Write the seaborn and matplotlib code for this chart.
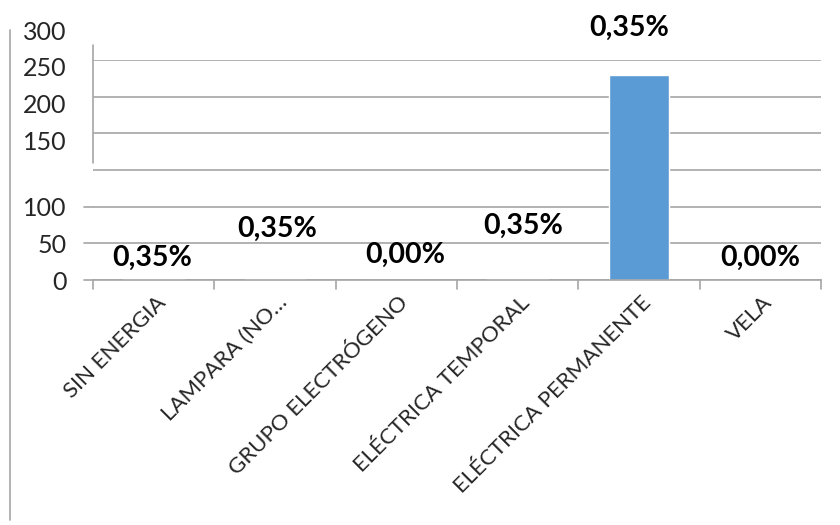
import matplotlib
matplotlib.use("Agg")
import matplotlib.pyplot as plt
import matplotlib.transforms as mtransforms
from matplotlib.lines import Line2D
import seaborn as sns

categories = ["SIN ENERGIA", "LAMPARA (NO…", "GRUPO ELECTRÓGENO",
              "ELÉCTRICA TEMPORAL", "ELÉCTRICA PERMANENTE", "VELA"]
values = [1, 1, 0, 1, 280, 0]
labels = ["0,35%", "0,35%", "0,00%", "0,35%", "0,35%", "0,00%"]
y_ticks = [0, 50, 100, 150, 200, 250, 300]

sns.set_style("white")
plt.rcParams["font.family"] = ["Lato", "DejaVu Sans"]

BAR = "#5B9BD5"
GRID = "#A6A6A6"

fig = plt.figure(figsize=(8.4, 5.25), dpi=100)
ax = fig.add_axes([93 / 840, 1 - 280 / 525, (821 - 93) / 840, 220 / 525])

sns.barplot(x=categories, y=values, color=BAR, width=0.5, saturation=1, ax=ax)

ax.set_xlim(-0.5, len(categories) - 0.5)
ax.set_ylim(0, 300)
ax.set_xlabel("")
ax.set_ylabel("")

for s in ["left", "right", "top"]:
    ax.spines[s].set_visible(False)
ax.spines["bottom"].set_color(GRID)
ax.spines["bottom"].set_linewidth(1.2)

# horizontal gridlines
ax.set_yticks(y_ticks)
ax.yaxis.grid(True, color=GRID, linewidth=1.2)
ax.set_axisbelow(True)
ax.set_yticklabels([str(v) for v in y_ticks], fontsize=18)
ax.tick_params(axis="y", length=0, pad=19)
# short outward ticks for the lower values only
for v in y_ticks[:3]:
    ax.plot([-0.0125, 0], [v, v], transform=ax.get_yaxis_transform(),
            color=GRID, lw=1.2, clip_on=False)
# upper labels sit one step higher
shift = mtransforms.ScaledTranslation(0, 0.30, fig.dpi_scale_trans)
for lab in ax.get_yticklabels()[3:]:
    lab.set_transform(lab.get_transform() + shift)

# category boundary ticks on the x axis
ax.set_xticks([i for i in range(len(categories))])
ax.tick_params(axis="x", length=0, pad=14)
for b in [i - 0.5 for i in range(len(categories) + 1)]:
    ax.plot([b, b], [0, -0.04], transform=ax.get_xaxis_transform(),
            color=GRID, lw=1.2, clip_on=False)
ax.set_xticklabels(categories, rotation=45, ha="right", va="center",
                   rotation_mode="anchor", fontsize=16)
off = mtransforms.ScaledTranslation(0.09, 0, fig.dpi_scale_trans)
for lab in ax.get_xticklabels():
    lab.set_transform(lab.get_transform() + off)

# partial vertical axis line
ax.plot([0, 0], [0.53, 1.07], transform=ax.transAxes, color=GRID,
        lw=1.2, clip_on=False)

# data labels
offsets = [(-1, 21), (2, 50), (9, 25), (6, 53), (-10, 47), (0, 22)]
for i, (val, txt) in enumerate(zip(values, labels)):
    dx, dy = offsets[i]
    ax.annotate(txt, xy=(i, val), xytext=(dx * 0.72, dy * 0.72),
                textcoords="offset points", ha="center", va="center",
                fontsize=20.5, fontweight="bold", color="black",
                annotation_clip=False)

# outer left border line
fig.add_artist(Line2D([10 / 840, 10 / 840], [1 - 30 / 525, 1 - 520 / 525],
                      transform=fig.transFigure, color=GRID, lw=1.2))

fig.savefig("out.png", dpi=100)
